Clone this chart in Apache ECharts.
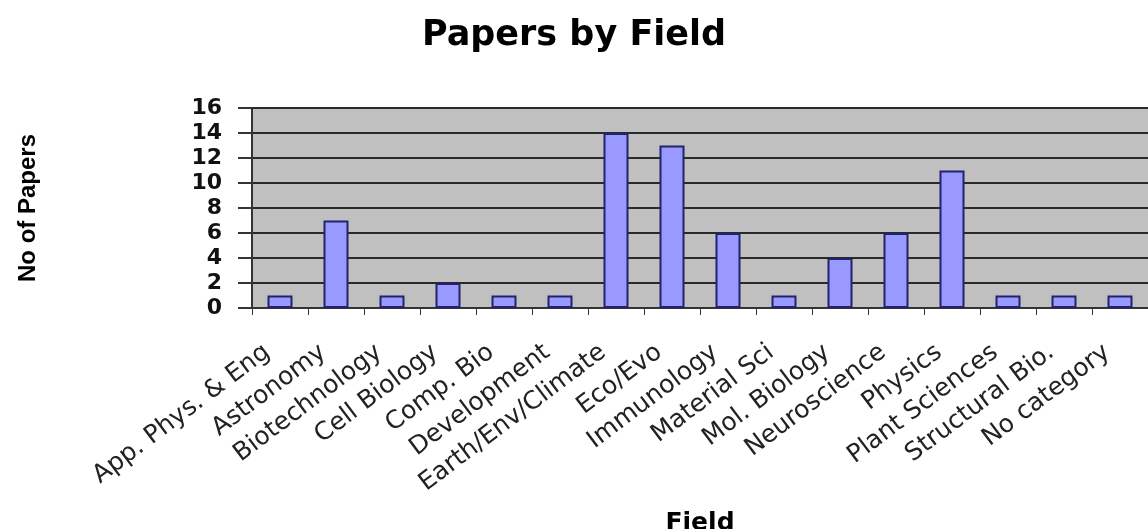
<!DOCTYPE html>
<html>
<head>
<meta charset="utf-8">
<script src="https://cdn.jsdelivr.net/npm/echarts@6/dist/echarts.min.js"></script>
<style>
  html, body { margin: 0; padding: 0; background: #fff; }
  #main { width: 1148px; height: 529px; }
</style>
</head>
<body>
<div id="main"></div>
<script>
// categories and counts
const fields = ['App. Phys. & Eng', 'Astronomy', 'Biotechnology', 'Cell Biology', 'Comp. Bio',
  'Development', 'Earth/Env/Climate', 'Eco/Evo', 'Immunology', 'Material Sci', 'Mol. Biology',
  'Neuroscience', 'Physics', 'Plant Sciences', 'Structural Bio.', 'No category'];
const papers = [1, 7, 1, 2, 1, 1, 14, 13, 6, 1, 4, 6, 11, 1, 1, 1];
const yTicks = [0, 2, 4, 6, 8, 10, 12, 14, 16];

const chart = echarts.init(document.getElementById('main'));
const wide = 'DejaVu Sans, Verdana, sans-serif';

const option = {
  animation: false,
  title: {
    text: 'Papers by Field',
    left: 'center',
    top: 13,
    textStyle: { fontFamily: wide, fontSize: 35, fontWeight: 'bold', color: '#000' }
  },
  grid: {
    left: 252, right: 0, top: 108, bottom: 221,
    outerBoundsMode: 'none', containLabel: false,
    backgroundColor: '#c0c0c0', show: true, borderWidth: 0
  },
  xAxis: {
    type: 'category',
    data: fields,
    name: 'Field',
    nameLocation: 'middle',
    nameGap: 203,
    nameTextStyle: { fontFamily: wide, fontSize: 25, fontWeight: 'bold', color: '#000' },
    axisLine: { lineStyle: { color: '#333', width: 2 } },
    axisTick: { show: true, length: 7, lineStyle: { color: '#333' } },
    axisLabel: {
      rotate: 37,
      interval: 0,
      margin: 32,
      padding: [0, 16, 0, 0],
      fontFamily: wide,
      fontSize: 25,
      color: '#222'
    }
  },
  yAxis: {
    type: 'value',
    min: 0,
    max: 16,
    interval: 2,
    name: 'No of Papers',
    nameLocation: 'middle',
    nameRotate: 90,
    nameGap: 212,
    nameTextStyle: {
      fontFamily: 'Liberation Sans Narrow, Liberation Sans, Arial, sans-serif',
      fontSize: 24, fontWeight: 'bold', color: '#000',
      padding: [0, 0, 0, 0]
    },
    axisLine: { show: true, lineStyle: { color: '#333', width: 2 } },
    axisTick: { show: true, length: 14, lineStyle: { color: '#333', width: 2 } },
    splitLine: { lineStyle: { color: '#2a2a2a', width: 2 } },
    axisLabel: {
      margin: 30,
      fontFamily: wide,
      fontSize: 22,
      fontWeight: 'bold',
      color: '#111',
      formatter: v => yTicks.includes(v) ? String(v) : ''
    }
  },
  series: [{
    type: 'bar',
    data: papers,
    barWidth: 25,
    itemStyle: { color: '#9999ff', borderColor: '#22226e', borderWidth: 2 }
  }]
};

chart.setOption(option);
</script>
</body>
</html>
